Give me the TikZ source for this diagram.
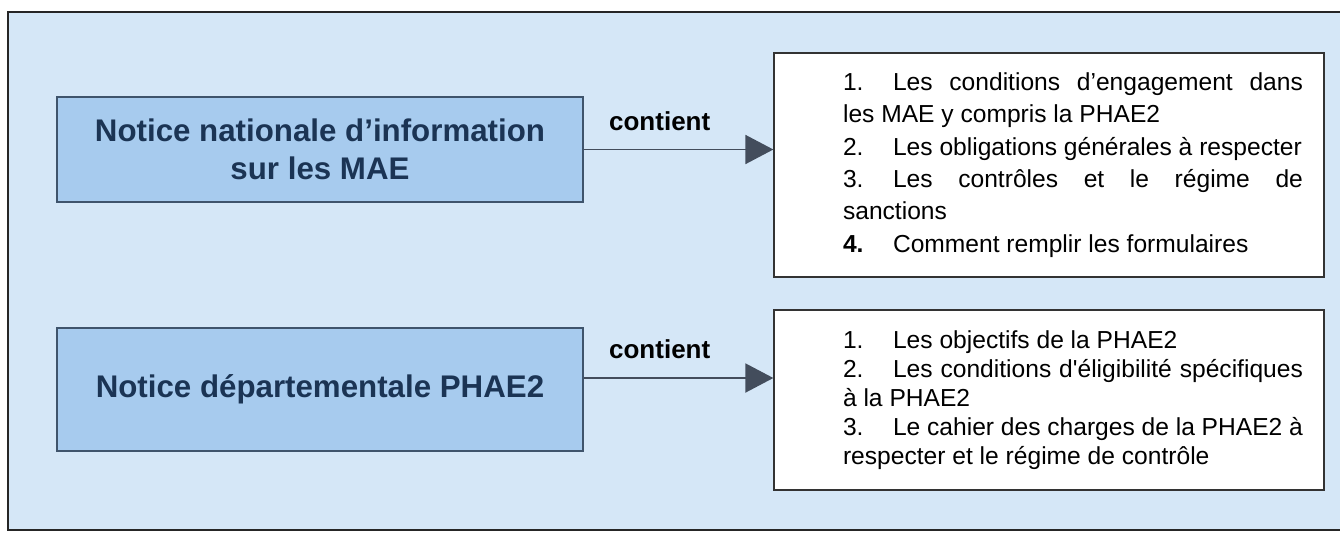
\documentclass[tikz,border=0pt]{standalone}
\usepackage{fontspec}
\setmainfont{Liberation Sans}
\usetikzlibrary{arrows.meta, positioning}

\definecolor{bgblue}{HTML}{D5E7F7}
\definecolor{boxblue}{HTML}{A7CBEE}
\definecolor{boxline}{HTML}{3F546C}
\definecolor{navy}{HTML}{1B3454}
\definecolor{arrowgray}{HTML}{434D5C}

\newcommand{\listitem}[2]{\makebox[1cm][l]{#1}#2\par}

\begin{document}
\begin{tikzpicture}[x=0.02cm, y=-0.02cm,
  notice/.style={draw=boxline, fill=boxblue, line width=1.1pt, minimum width=10.52cm,
    align=center, text=navy, font=\fontsize{17.8}{21.5}\selectfont\bfseries},
  contentbox/.style={draw=black!80, fill=white, line width=0.8pt, minimum width=11cm,
    text width=10.16cm, inner xsep=0pt, align=justify, font=\fontsize{14}{18.4}\selectfont},
  contains/.style={draw=arrowgray, line width=1.1pt, -{Triangle[length=0.56cm, width=0.58cm]}},
  relabel/.style={font=\fontsize{14.8}{18}\selectfont\bfseries, text=black}]
  \useasboundingbox (0,0) rectangle (1340,532);

  % Background
  \fill[bgblue] (8,12) rectangle (1340,530);
  \draw[line width=1.1pt, black!85] (1340,12) -- (8,12) -- (8,530) -- (1340,530);

  % Notices
  \node[notice, minimum height=2.1cm] (national) at (320,149.5)
    {Notice nationale d'information\\sur les MAE};
  \node[notice, minimum height=2.46cm] (departement) at (320,389.5)
    {Notice départementale PHAE2};

  % Contents
  \node[contentbox, minimum height=4.48cm] (nationallist) at (1049,165)
    {\leftskip=0.96cm\hyphenpenalty=10000\tolerance=9999
     \listitem{1.}{Les conditions d’engagement dans\linebreak les MAE y compris la PHAE2}
     \listitem{2.}{Les obligations générales à respecter}
     \listitem{3.}{Les contrôles et le régime de\linebreak sanctions}
     \listitem{\textbf{4.}}{Comment remplir les formulaires}};
  \node[contentbox, minimum height=3.6cm, font=\fontsize{14}{16.6}\selectfont]
    (departementlist) at (1049,400)
    {\leftskip=0.96cm\hyphenpenalty=10000\tolerance=9999
     \listitem{1.}{Les objectifs de la PHAE2}
     \listitem{2.}{Les conditions d\textquotesingle éligibilité spécifiques\linebreak à la PHAE2}
     \listitem{3.}{Le cahier des charges de la PHAE2 à\linebreak respecter et le régime de contrôle}};

  % Arrows
  \coordinate (nstart) at (national.east);
  \coordinate (dstart) at ([yshift=0.23cm]departement.east);
  \draw[contains] (nstart) -- node[relabel, pos=0.4, above=0.24cm] {contient} (nstart -| nationallist.west);
  \draw[contains] (dstart) -- node[relabel, pos=0.4, above=0.24cm] {contient} (dstart -| departementlist.west);
\end{tikzpicture}
\end{document}
